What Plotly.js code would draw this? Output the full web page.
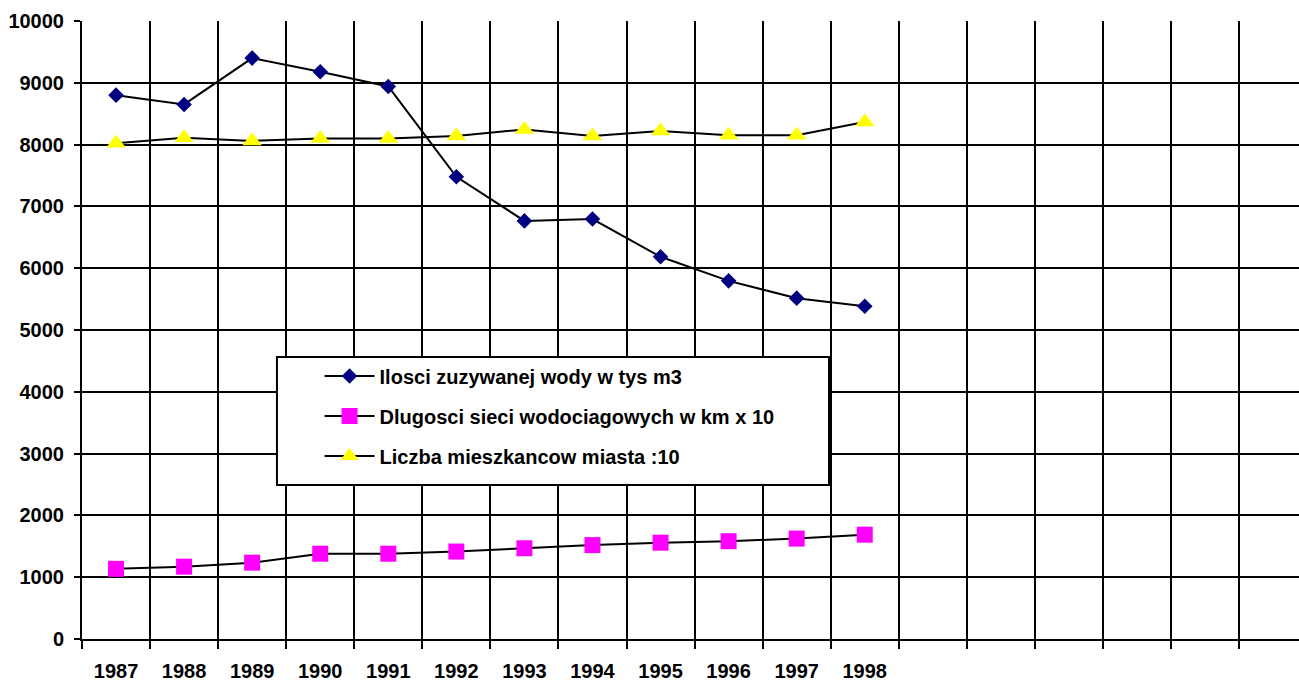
<!DOCTYPE html>
<html>
<head>
<meta charset="utf-8">
<script src="https://cdn.plot.ly/plotly-3.0.1.min.js"></script>
<style>html,body{margin:0;padding:0;background:#fff;}#chart{width:1299px;height:682px;}</style>
</head>
<body>
<div id="chart"></div>
<script>
const years = ['1987','1988','1989','1990','1991','1992','1993','1994','1995','1996','1997','1998'];
const waterUse = [8800, 8650, 9400, 9180, 8940, 7480, 6765, 6795, 6185, 5795, 5515, 5385];
const networkLength = [1135, 1170, 1235, 1380, 1380, 1415, 1468, 1520, 1558, 1582, 1625, 1688];
const population = [8020, 8110, 8060, 8100, 8100, 8140, 8245, 8140, 8220, 8150, 8150, 8365];
const seriesNames = ['Ilosci zuzywanej wody w tys m3', 'Dlugosci sieci wodociagowych w km x 10', 'Liczba mieszkancow miasta :10'];

const slots = 18; // category slots shown on the axis (data fills the first 12)
const idx = years.map((_, i) => i);
const bounds = [];
for (let k = 0; k <= slots; k++) bounds.push(k - 0.5);

const FONT = 'Liberation Sans, Arial, sans-serif';
const xr = [-0.5, 17.38];

const traces = [
  {x: idx, y: waterUse, name: seriesNames[0], type: 'scatter', mode: 'lines+markers', legendgroup: 'a',
   line: {color: '#000000', width: 2}, marker: {symbol: 'diamond', size: 12, color: '#000080'}},
  {x: idx, y: networkLength, name: seriesNames[1], type: 'scatter', mode: 'lines+markers', legendgroup: 'b',
   line: {color: '#000000', width: 2}, marker: {symbol: 'square', size: 16, color: '#FF00FF'}},
  {x: idx, y: population, name: seriesNames[2], type: 'scatter', mode: 'lines+markers', legendgroup: 'c',
   line: {color: '#000000', width: 2}, marker: {symbol: 'triangle-up', size: 17, color: '#FFFF00'}}
];

const layout = {
  width: 1299, height: 682,
  margin: {l: 82, r: 0, t: 21, b: 43, pad: 0},
  paper_bgcolor: '#ffffff', plot_bgcolor: '#ffffff',
  font: {family: FONT, size: 16, color: '#000000', weight: 'bold'},
  showlegend: true,
  xaxis: {
    range: xr, tickmode: 'array', tickvals: bounds, ticktext: bounds.map(() => ''),
    showgrid: true, gridcolor: '#000000', gridwidth: 2,
    ticks: 'outside', ticklen: 8, tickwidth: 2, tickcolor: '#000000',
    showline: true, linecolor: '#000000', linewidth: 2, zeroline: false, showticklabels: false, fixedrange: true
  },
  xaxis2: {
    overlaying: 'x', anchor: 'y', side: 'bottom', range: xr,
    tickmode: 'array', tickvals: idx, ticktext: years,
    showgrid: false, zeroline: false, showline: false, ticks: '', ticklabelstandoff: 18,
    tickfont: {family: FONT, size: 20, color: '#000000', weight: 'bold'}
  },
  yaxis: {
    range: [0, 10000], dtick: 1000, tick0: 0, tickformat: 'd',
    showgrid: true, gridcolor: '#000000', gridwidth: 2,
    ticks: 'outside', ticklen: 6, tickwidth: 2, tickcolor: '#000000', ticklabelstandoff: 6,
    showline: true, linecolor: '#000000', linewidth: 2, zeroline: false,
    tickfont: {family: FONT, size: 20, color: '#000000', weight: 'bold'}
  },
  shapes: [{
    type: 'rect', xref: 'paper', yref: 'paper', layer: 'above',
    x0: 0.1602, x1: 0.6138, y0: 0.2492, y1: 0.4563,
    fillcolor: '#ffffff', line: {color: '#000000', width: 2}
  }],
  legend: {
    x: 0.1952, y: 0.457, xanchor: 'left', yanchor: 'top',
    bgcolor: 'rgba(0,0,0,0)', borderwidth: 0, traceorder: 'grouped',
    tracegroupgap: 11, itemwidth: 50,
    font: {family: FONT, size: 20, color: '#000000', weight: 'bold'}
  }
};

// invisible trace on xaxis2 so the year-label axis is drawn
traces.push({x: [0], y: [0], xaxis: 'x2', yaxis: 'y', type: 'scatter', mode: 'markers',
  marker: {opacity: 0}, showlegend: false, hoverinfo: 'skip'});

Plotly.newPlot('chart', traces, layout, {displayModeBar: false, staticPlot: true});
</script>
</body>
</html>
